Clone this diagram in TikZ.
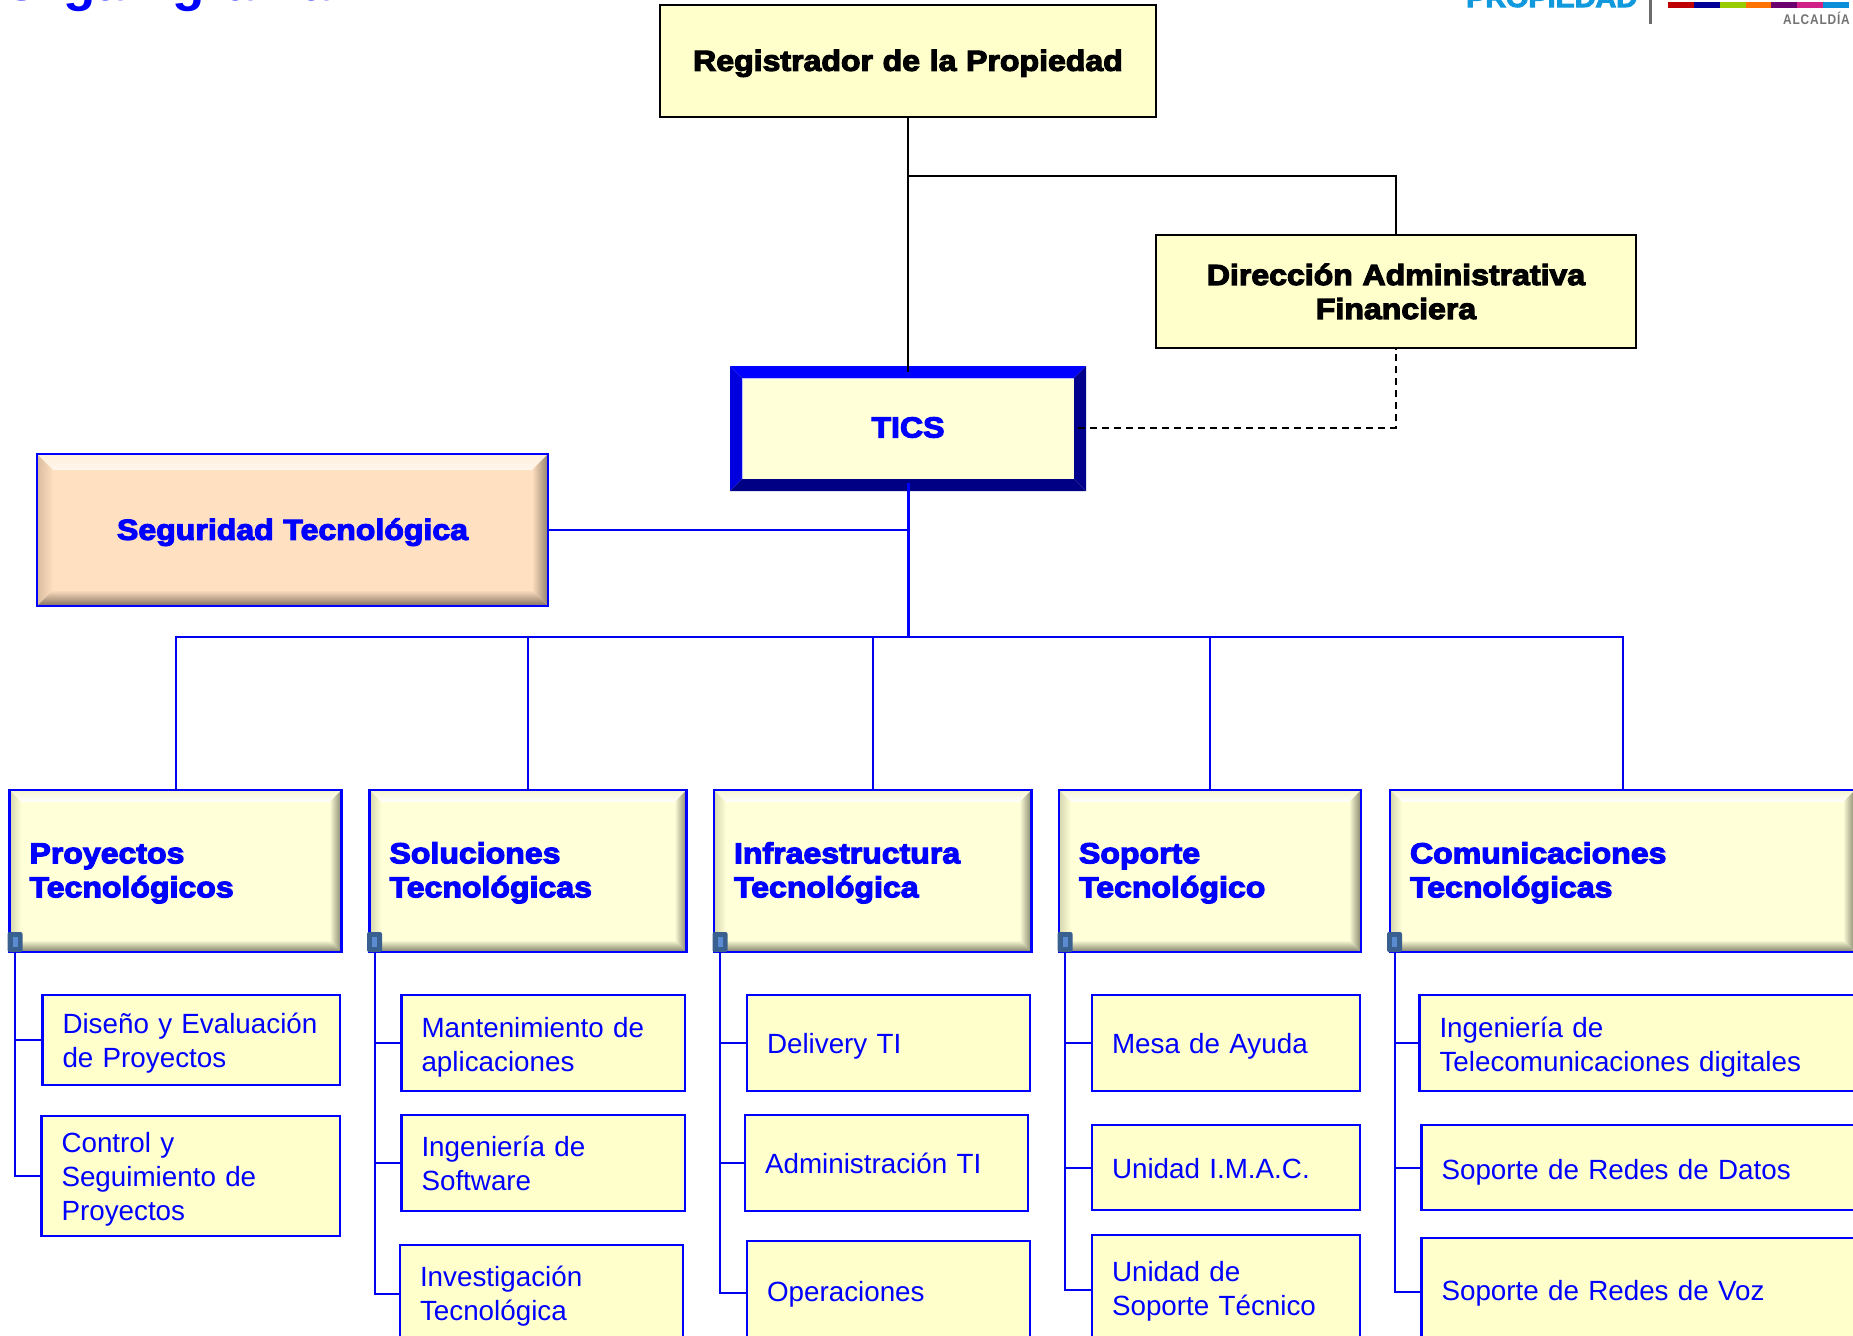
\documentclass[tikz,border=0pt]{standalone}
\usepackage{fontspec}
\setmainfont{Liberation Sans}
\newfontfamily\heavyfont[BoldFeatures={FakeBold=4,FakeStretch=1.105}]{Liberation Sans}
\newfontfamily\logofont[BoldFeatures={FakeStretch=0.85,LetterSpace=6}]{Liberation Sans}
\definecolor{tblue}{HTML}{0000FF}
\definecolor{face}{HTML}{FFFFCC}
\definecolor{faceb}{HTML}{FFFFD8}
\definecolor{peach}{HTML}{FFE0C0}
\definecolor{lineblue}{HTML}{0000F0}
\definecolor{handlec}{HTML}{3A6090}
\definecolor{handlei}{HTML}{5B8BD0}
\tikzset{
  x=1pt,y=-1pt,
  heavy/.style={font=\heavyfont\bfseries\fontsize{29}{34}\selectfont},
  light/.style={font=\fontsize{27.8}{34}\selectfont,text=tblue},
  toplevel/.style={draw=black,line width=2.2pt,fill=face,heavy,text=black,align=center},
  subbox/.style={draw=tblue,line width=2.2pt,fill=face,light,align=left},
  hdrbox/.style={draw=tblue,line width=2.4pt,heavy,text=tblue,align=left},
  segbox/.style={draw=tblue,line width=2.4pt,heavy,text=tblue,align=center},
  ticsbox/.style={heavy,text=tblue,align=center},
  handlebox/.style={draw=none,fill=handlec,rounded corners=2pt,minimum width=15pt,minimum height=20pt,inner sep=0pt},
  handleinner/.style={fill=handlei},
  conn/.style={draw=lineblue,line width=2pt},
  trunkconn/.style={draw=tblue,line width=3pt},
  blackconn/.style={draw=black,line width=2pt},
  dashconn/.style={draw=black,line width=2pt,dash pattern=on 7pt off 5pt}
}
% lowers a block of lines by #1 pt inside its node, keeping the node's centre
\newcommand{\Dn}[2]{\raisebox{-#1pt}[\height][\depth]{\begin{tabular}{@{}l@{}}#2\end{tabular}}}
% #1 name #2 style #3 x1 #4 y1 #5 x2 #6 y2 #7 text
\newcommand{\Bx}[7]{%
  \pgfmathsetmacro{\cxx}{(#3+#5)/2}\pgfmathsetmacro{\cyy}{(#4+#6)/2}%
  \pgfmathsetmacro{\www}{#5-#3}\pgfmathsetmacro{\hhh}{#6-#4}\pgfmathsetmacro{\ttt}{#5-#3-40}%
  \node[#2,minimum width=\www pt,minimum height=\hhh pt,text width=\ttt pt,inner xsep=20pt,inner ysep=0pt] (#1) at (\cxx,\cyy) {#7};%
}
\newcommand{\Bevel}[9]{%
  \pgfmathsetmacro{\ix}{#1+#5}\pgfmathsetmacro{\iy}{#2+#5}\pgfmathsetmacro{\jx}{#3-#5}\pgfmathsetmacro{\jy}{#4-#5}%
  \fill[#6] (#1,#2) rectangle (#3,#4);%
  \shade[top color=#8,bottom color=#7] (#1,#2) -- (#3,#2) -- (\jx,\iy) -- (\ix,\iy) -- cycle;%
  \shade[left color=#9,right color=#6] (#1,#2) -- (\ix,\iy) -- (\ix,\jy) -- (#1,#4) -- cycle;%
  \BevelB{#1}{#2}{#3}{#4}{\ix}{\iy}{\jx}{\jy}{#6}%
}
\newcommand{\BevelB}[9]{%
  \shade[left color=#9,middle color=\rcol,right color=\rcol] (#3,#2) -- (#3,#4) -- (#7,#8) -- (#7,#6) -- cycle;%
  \shade[top color=#9,middle color=\bcol,bottom color=\bcol] (#1,#4) -- (#3,#4) -- (#7,#8) -- (#5,#8) -- cycle;%
}
\newcommand{\HdrBevel}[4]{\def\rcol{rcolh}\def\bcol{bcolh}\Bevel{#1}{#2}{#3}{#4}{12}{faceb}{white}{topo}{lefto}}
\definecolor{rcolh}{HTML}{85856E}
\definecolor{bcolh}{HTML}{7E7E68}
\definecolor{topo}{HTML}{F6F6D0}
\definecolor{lefto}{HTML}{D5D5AE}
\definecolor{rcols}{HTML}{93806C}
\definecolor{bcols}{HTML}{837060}
\definecolor{tops}{HTML}{FFF0DC}
\definecolor{lefts}{HTML}{D8BC9E}
\begin{document}
\begin{tikzpicture}
\path[use as bounding box,clip] (0,0) rectangle (1853,1336);
% clipped title and logo
\node[anchor=base west,inner sep=0pt,text=tblue,font=\bfseries\fontsize{53}{60}\selectfont] (title) at (1,0) {Organigrama};
\node[anchor=base west,inner sep=0pt,text={rgb,255:red,17;green,153;blue,221},font=\heavyfont\bfseries\fontsize{26}{34}\selectfont] (logotext) at (1466,7) {PROPIEDAD};
\fill[gray!85!black] (1648.5,0) rectangle (1652,24);
\fill[red!75!black] (1668,1.5) rectangle (1694,7.5);
\fill[blue!60!black] (1694,1.5) rectangle (1720,7.5);
\fill[lime!80!black] (1720,1.5) rectangle (1746,7.5);
\fill[orange!90!red] (1746,1.5) rectangle (1771,7.5);
\fill[violet!85!black] (1771,1.5) rectangle (1797,7.5);
\fill[magenta!85!black] (1797,1.5) rectangle (1823,7.5);
\fill[cyan!75!blue] (1823,1.5) rectangle (1849,7.5);
\node[anchor=base east,inner sep=0pt,text=gray!90!black,font=\logofont\bfseries\fontsize{14}{16}\selectfont] (alcaldia) at (1850,24.5) {ALCALDÍA};
% top level
\Bx{reg}{toplevel}{660}{5}{1156}{117}{\Dn{3}{Registrador de la Propiedad}}
\Bx{dir}{toplevel}{1156}{235}{1636}{348}{Dirección Administrativa\\Financiera}
% TICS
\fill[faceb] (742,378) rectangle (1074,479);
\fill[tblue] (730,366) -- (1086,366) -- (1074,378) -- (742,378) -- cycle;
\fill[blue!87!black] (730,366) -- (742,378) -- (742,479) -- (730,491) -- cycle;
\fill[blue!55!black] (1086,366) -- (1086,491) -- (1074,479) -- (1074,378) -- cycle;
\fill[blue!52!black] (730,491) -- (1086,491) -- (1074,479) -- (742,479) -- cycle;
\draw[white!75!blue,line width=1pt] (742,479) -- (742,378) -- (1074,378);
\node[ticsbox,minimum width=340pt,minimum height=111pt,inner sep=0pt] (tics) at (908,427.5) {TICS};
% Seguridad
\def\rcol{rcols}\def\bcol{bcols}
\Bevel{37}{454}{548}{606}{16}{peach}{white!70!peach}{tops}{lefts}
\Bx{seg}{segbox}{37}{454}{548}{606}{\Dn{3}{Seguridad Tecnológica}}
% headers
\HdrBevel{9.5}{790}{341.5}{952}
\Bx{h1}{hdrbox}{9.5}{790}{341.5}{952}{\Dn{2.5}{Proyectos\\Tecnológicos}}
\HdrBevel{369.5}{790}{686.5}{952}
\Bx{h2}{hdrbox}{369.5}{790}{686.5}{952}{\Dn{2.5}{Soluciones\\Tecnológicas}}
\HdrBevel{714}{790}{1031.5}{952}
\Bx{h3}{hdrbox}{714}{790}{1031.5}{952}{\Dn{2.5}{Infraestructura\\Tecnológica}}
\HdrBevel{1059}{790}{1361}{952}
\Bx{h4}{hdrbox}{1059}{790}{1361}{952}{\Dn{2.5}{Soporte\\Tecnológico}}
\HdrBevel{1390}{790}{1855}{952}
\Bx{h5}{hdrbox}{1390}{790}{1855}{952}{\Dn{2.5}{Comunicaciones\\Tecnológicas}}
% sub boxes
\Bx{a1}{subbox}{42.5}{995}{340}{1085}{\Dn{3.5}{Diseño y Evaluación\\de Proyectos}}
\Bx{a2}{subbox}{41.5}{1116}{340}{1236}{\Dn{3.5}{Control y\\Seguimiento de\\Proyectos}}
\Bx{b1}{subbox}{401.5}{995}{685}{1091}{\Dn{4.5}{Mantenimiento de\\aplicaciones}}
\Bx{b2}{subbox}{401.5}{1115}{685}{1211}{\Dn{4}{Ingeniería de\\Software}}
\Bx{b3}{subbox}{400}{1245}{683}{1343}{\Dn{3}{Investigación\\Tecnológica}}
\Bx{c1}{subbox}{747}{995}{1030}{1091}{\Dn{4}{Delivery TI}}
\Bx{c2}{subbox}{745}{1115}{1028}{1211}{\Dn{4}{Administración TI}}
\Bx{c3}{subbox}{747}{1241}{1030}{1345}{\Dn{2}{Operaciones}}
\Bx{d1}{subbox}{1092}{995}{1360}{1091}{\Dn{4}{Mesa de Ayuda}}
\Bx{d2}{subbox}{1092}{1125}{1360}{1210}{\Dn{4}{Unidad I.M.A.C.}}
\Bx{d3}{subbox}{1092}{1235}{1360}{1345}{\Dn{2}{Unidad de\\Soporte Técnico}}
\Bx{e1}{subbox}{1419.5}{995}{1870}{1091}{\Dn{5}{Ingeniería de\\Telecomunicaciones digitales}}
\Bx{e2}{subbox}{1421.5}{1125}{1870}{1210}{\Dn{5}{Soporte de Redes de Datos}}
\Bx{e3}{subbox}{1421.5}{1238}{1870}{1346}{\Dn{2}{Soporte de Redes de Voz}}
% handles
\node[handlebox] (p1) at (15,942) {};
\node[handlebox] (p2) at (374.5,942) {};
\node[handlebox] (p3) at (720,942) {};
\node[handlebox] (p4) at (1065,942) {};
\node[handlebox] (p5) at (1394.5,942) {};
\foreach \n in {p1,p2,p3,p4,p5}{\fill[handleinner] ([xshift=-2.5pt,yshift=-5pt]\n.center) rectangle ([xshift=2.5pt,yshift=5pt]\n.center);}
% connectors
\coordinate (branch) at (908,176);
\coordinate (bus) at (908,637);
\draw[blackconn] (reg.south) -- (tics.north);
\draw[blackconn] (branch) -| (dir.north);
\draw[dashconn] (tics.east) -| (dir.south);
\draw[trunkconn] (tics.south) -- (bus);
\draw[conn] (seg.east) -- (seg.east -| bus);
\foreach \n in {h1,h2,h3,h4,h5}{\draw[conn] (bus) -| (\n.north);}
\draw[conn] (p1.south) |- (a1.west);
\draw[conn] (p1.south) |- (a2.west);
\draw[conn] (p2.south) |- (b1.west);
\draw[conn] (p2.south) |- (b2.west);
\draw[conn] (p2.south) |- (b3.west);
\draw[conn] (p3.south) |- (c1.west);
\draw[conn] (p3.south) |- (c2.west);
\draw[conn] (p3.south) |- (c3.west);
\draw[conn] (p4.south) |- (d1.west);
\draw[conn] (p4.south) |- (d2.west);
\draw[conn] (p4.south) |- (d3.west);
\draw[conn] (p5.south) |- (e1.west);
\draw[conn] (p5.south) |- (e2.west);
\draw[conn] (p5.south) |- (e3.west);
\end{tikzpicture}
\end{document}
